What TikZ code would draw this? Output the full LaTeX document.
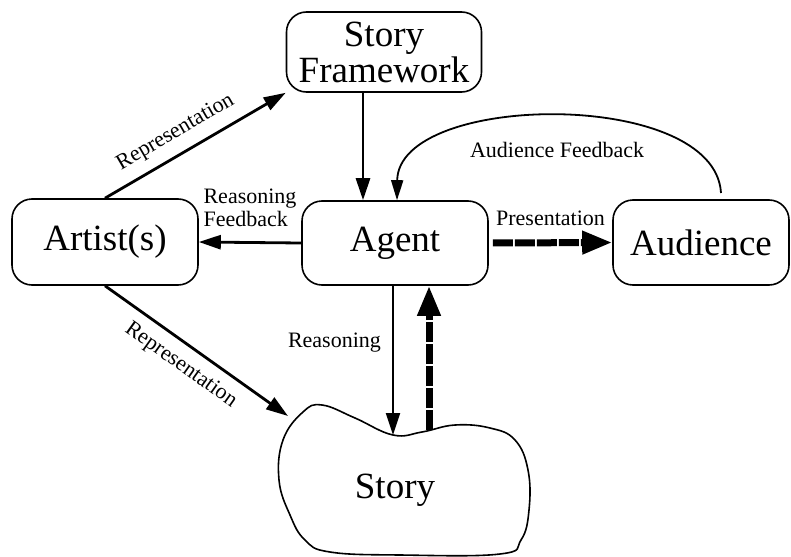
\documentclass[tikz,border=0pt]{standalone}
\usepackage{fontspec}
\setmainfont{Liberation Serif}
\usetikzlibrary{arrows.meta}

\begin{document}
\begin{tikzpicture}[x=0.5pt,y=-0.5pt,
  box/.style={draw,line width=0.8pt,rounded corners=10pt,inner sep=0pt,align=center,font=\fontsize{18.5}{18}\selectfont},
  lbl/.style={inner sep=1pt,font=\fontsize{11}{11.5}\selectfont},
  arr/.style={line width=1.4pt,-{Triangle[length=11pt,width=7pt]}},
  darr/.style={line width=3.5pt,dash pattern=on 10pt off 1pt,-{Triangle[length=15pt,width=11pt]}}]
\useasboundingbox (0,0) rectangle (791,556);
\node[box,minimum width=97.5pt,minimum height=40pt] (frame) at (384,52) {Story\\Framework};
\node[box,minimum width=93pt,minimum height=43pt] (artist) at (105,242) {Artist(s)};
\node[box,minimum width=93pt,minimum height=42pt] (agent) at (395,243) {Agent};
\node[box,minimum width=88pt,minimum height=42.5pt] (audience) at (701,242.5) {Audience};
\draw[line width=0.8pt] plot[smooth cycle,tension=0.7] coordinates {(283,440) (303,412) (322,405) (355,418) (393,435) (422,432) (455,425) (490,428) (515,440) (528,470) (529,510) (521,540) (500,554) (400,555) (330,552) (305,540) (290,515) (279,480)};
\node[font=\fontsize{18.5}{18}\selectfont] (story) at (395,490) {Story};
\coordinate (dip) at (393,435);
\coordinate (rise) at (429,430);
\coordinate (edge) at (288,416);
\coordinate (fa) at (363,0);
\coordinate (fbout) at (721,193);
\coordinate (fbin) at (397,0);
\draw[arr] (artist.north) -- (frame.south west) node[lbl,pos=.45,sloped,above=4pt] {Representation};
\draw[arr] (artist.south) -- (edge) node[lbl,pos=.48,sloped,below=4pt] {Representation};
\draw[arr] (frame.south -| fa) -- (agent.north -| fa);
\draw[arr] (agent.west) -- (artist.east) node[lbl,midway,above=6pt,align=left] {Reasoning\\Feedback};
\draw[arr,line width=1.1pt] (agent.south -| dip) -- (dip) node[lbl,pos=.38,left=4.5pt] {Reasoning};
\draw[darr,shorten <=2pt] (agent.east) -- (audience.west) node[lbl,midway,above=6pt] {Presentation};
\draw[darr] (rise) -- (agent.south -| rise);
\draw[line width=0.9pt,-{Triangle[length=10pt,width=6pt]}] (fbout) .. controls (715,88) and (398,92) .. (agent.north -| fbin) node[lbl,pos=.5,below=11.5pt] {Audience Feedback};
\end{tikzpicture}
\end{document}
